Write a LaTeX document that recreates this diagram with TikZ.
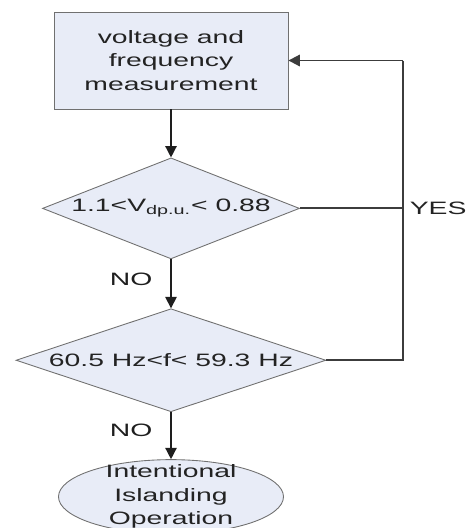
\documentclass[tikz,border=0pt]{standalone}
\usepackage{fontspec}
\setmainfont{Liberation Sans}[FakeStretch=1.58]
\definecolor{flowFill}{RGB}{232,236,247}
\definecolor{flowEdge}{RGB}{112,112,112}
\definecolor{flowLine}{RGB}{30,30,30}
\definecolor{flowLoop}{RGB}{60,60,60}
\definecolor{flowText}{RGB}{35,35,35}
\usetikzlibrary{arrows.meta,positioning,shapes.geometric,calc}

\begin{document}
\begin{tikzpicture}[
  font=\fontsize{10.2}{13.3}\selectfont, text=flowText,
  box/.style={draw=flowEdge, fill=flowFill, line width=0.5pt, align=center,
              minimum width=4.68cm, minimum height=1.94cm, inner sep=0pt},
  decision/.style={draw=flowEdge, fill=flowFill, line width=0.5pt, diamond,
              inner sep=0pt, align=center},
  terminal/.style={draw=flowEdge, fill=flowFill, line width=0.5pt, ellipse,
              align=center, inner xsep=0pt, inner ysep=-0.11cm,
              minimum width=4.5cm, minimum height=1.48cm},
  flow/.style={-{Triangle[length=6.5pt,width=6.5pt]}, line width=0.8pt, flowLine},
  back/.style={line width=1.1pt, flowLoop}
]
  \useasboundingbox (0,0) rectangle (9.32,-10.56);

  \node[box] (meas) at (3.42,-1.21) {voltage and\\frequency\\measurement};
  \node[decision, aspect=2.54, minimum width=5.14cm, minimum height=2.02cm,
        below=0.96cm of meas]                          (volt)  {1.1<V\textsubscript{dp.u.}< 0.88};
  \node[decision, aspect=3.01, minimum width=6.2cm, minimum height=2.06cm,
        below=0.98cm of volt]                          (freq)  {60.5 Hz<f< 59.3 Hz};
  \node[terminal, below=0.94cm of freq]                (island) {Intentional\\Islanding\\Operation};

  \coordinate (loop) at ($(meas.east)+(2.3,0)$);

  \draw[flow] (meas) -- (volt);
  \draw[flow] (volt) -- node[left=0.36cm, inner sep=0pt, pos=0.4] {NO} (freq);
  \draw[flow] (freq) -- node[left=0.36cm, inner sep=0pt, pos=0.38] {NO} (island);

  \draw[back] (volt.east) -- (volt.east -| loop);
  \draw[back] (freq.east) -| (loop);
  \draw[flow, line width=1.1pt, flowLoop] (loop) -- (meas.east);
  \node[anchor=west, inner sep=0pt, xshift=0.12cm] (yes) at (volt.east -| loop) {YES};
\end{tikzpicture}
\end{document}
